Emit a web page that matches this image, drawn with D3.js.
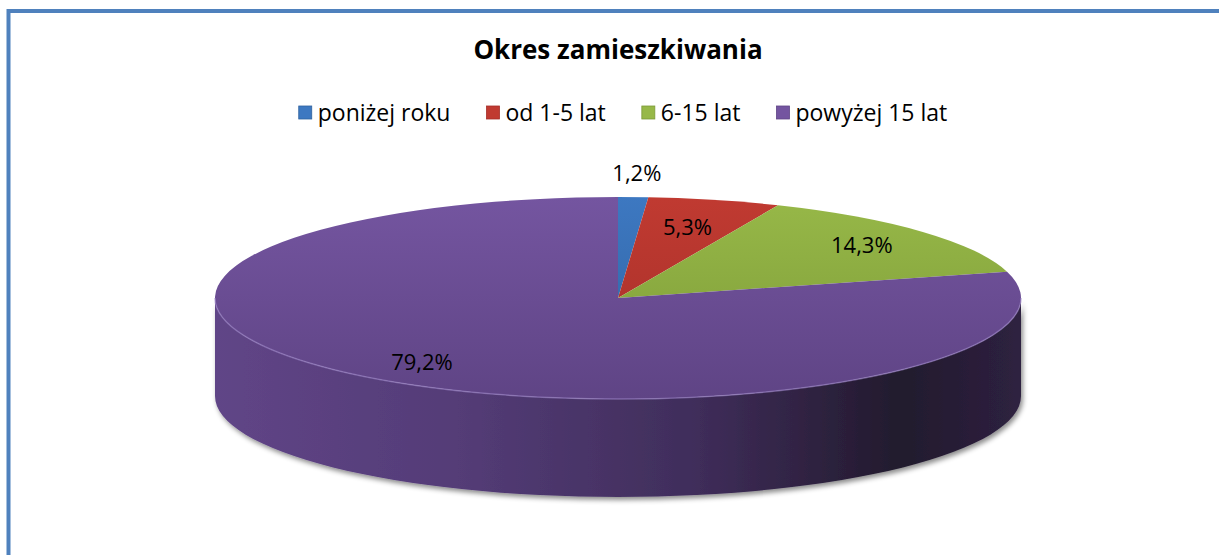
<!DOCTYPE html>
<html>
<head>
<meta charset="utf-8">
<script src="https://cdn.jsdelivr.net/npm/d3@7"></script>
<style>
  body { margin: 0; background: #fff; }
  svg { display: block; font-family: "Open Sans", "Noto Sans", sans-serif; }
</style>
</head>
<body>
<div id="chart"></div>
<script>
const categories = ['poniżej roku', 'od 1-5 lat', '6-15 lat', 'powyżej 15 lat'];
const values = [1.2, 5.3, 14.3, 79.2];
const topColors = ['#3d78c1', '#c03a31', '#97b848', '#7455a0'];
const darkColors = ['#2f629f', '#a52f29', '#7c9a37', '#5f4485'];
const title = 'Okres zamieszkiwania';

const width = 1219;
const height = 555;

// pie geometry (ellipse of the top face + thickness)
const cx = 618, cy = 298;
const rx = 403, ry = 101;
const depth = 98;

const data = categories.map((c, i) => ({ cat: c, value: values[i] }));

const color = d3.scaleOrdinal().domain(categories).range(topColors);
const dark = d3.scaleOrdinal().domain(categories).range(darkColors);

const pie = d3.pie().sort(null).value(d => d.value).startAngle(0).endAngle(2 * Math.PI);
const arcs = pie(data);

const svg = d3.select('#chart').append('svg')
  .attr('width', width)
  .attr('height', height);

const defs = svg.append('defs');

// border of the chart area
svg.append('rect')
  .attr('x', 8.5).attr('y', 11)
  .attr('width', width + 20).attr('height', height + 20)
  .attr('fill', 'none')
  .attr('stroke', '#4f81bd')
  .attr('stroke-width', 4);

svg.append('text')
  .attr('x', cx).attr('y', 59)
  .attr('text-anchor', 'middle')
  .attr('font-size', 26)
  .attr('font-weight', 700)
  .text(title);

// ellipse point helper: angle from 12 o'clock, clockwise
function pt(a, dy) {
  return [cx + rx * Math.sin(a), cy - ry * Math.cos(a) + (dy || 0)];
}

function slicePath(d) {
  const p0 = pt(d.startAngle), p1 = pt(d.endAngle);
  const large = d.endAngle - d.startAngle > Math.PI ? 1 : 0;
  return `M${cx},${cy}L${p0[0]},${p0[1]}A${rx},${ry} 0 ${large} 1 ${p1[0]},${p1[1]}Z`;
}

function sidePath(a0, a1) {
  const p0 = pt(a0), p1 = pt(a1);
  const q0 = pt(a0, depth), q1 = pt(a1, depth);
  const large = a1 - a0 > Math.PI ? 1 : 0;
  return `M${p0[0]},${p0[1]}A${rx},${ry} 0 ${large} 1 ${p1[0]},${p1[1]}` +
    `L${q1[0]},${q1[1]}A${rx},${ry} 0 ${large} 0 ${q0[0]},${q0[1]}Z`;
}

// gradients
arcs.forEach((d, i) => {
  const g = defs.append('linearGradient')
    .attr('id', 'top' + i)
    .attr('gradientUnits', 'userSpaceOnUse')
    .attr('x1', 0).attr('y1', cy - ry).attr('x2', 0).attr('y2', cy + ry);
  g.append('stop').attr('offset', 0).attr('stop-color', color(d.data.cat));
  g.append('stop').attr('offset', 1).attr('stop-color', dark(d.data.cat));
});

const sideGrad = defs.append('linearGradient')
  .attr('id', 'side')
  .attr('gradientUnits', 'userSpaceOnUse')
  .attr('x1', cx - rx).attr('y1', 0).attr('x2', cx + rx).attr('y2', 0);
[[0, '#604587'], [0.3, '#543c77'], [0.6, '#3f2d5a'], [0.85, '#221a2d'], [1, '#2e2140']]
  .forEach(s => sideGrad.append('stop').attr('offset', s[0]).attr('stop-color', s[1]));

const shadow = defs.append('filter').attr('id', 'shadow')
  .attr('x', '-10%').attr('y', '-10%').attr('width', '120%').attr('height', '130%');
shadow.append('feDropShadow')
  .attr('dx', 2).attr('dy', 3).attr('stdDeviation', 2.5)
  .attr('flood-color', '#000').attr('flood-opacity', 0.45);

// side walls (front half only)
const sides = svg.append('g').attr('filter', 'url(#shadow)');
arcs.forEach(d => {
  const a0 = Math.max(d.startAngle, Math.PI / 2);
  const a1 = Math.min(d.endAngle, 3 * Math.PI / 2);
  if (a1 <= a0) return;
  sides.append('path')
    .attr('d', sidePath(a0, a1))
    .attr('fill', d.data.cat === categories[3] ? 'url(#side)' : dark(d.data.cat));
});

// top face
svg.append('g').selectAll('path')
  .data(arcs)
  .join('path')
  .attr('d', slicePath)
  .attr('fill', (d, i) => `url(#top${i})`);

// rim highlight along the front edge
{
  const p0 = pt(Math.PI / 2), p1 = pt(3 * Math.PI / 2);
  svg.append('path')
    .attr('d', `M${p0[0]},${p0[1]}A${rx},${ry} 0 0 1 ${p1[0]},${p1[1]}`)
    .attr('fill', 'none')
    .attr('stroke', '#9a82c4')
    .attr('stroke-opacity', 0.6)
    .attr('stroke-width', 1.5);
}

// data labels
const fmt = v => d3.format('.1f')(v).replace('.', ',') + '%';
svg.append('g').selectAll('text')
  .data(arcs)
  .join('text')
  .attr('font-size', 22)
  .attr('text-anchor', 'middle')
  .attr('fill', '#000')
  .each(function (d) {
    const mid = (d.startAngle + d.endAngle) / 2;
    const f = d.data.value < 3 ? 1.24 : (d.data.value < 10 ? 0.72 : 0.8);
    const x = cx + rx * f * Math.sin(mid);
    const y = cy - ry * f * Math.cos(mid);
    d3.select(this).attr('x', x).attr('y', y + 8);
  })
  .text(d => fmt(d.data.value));

// legend
const legend = svg.append('g');
const items = legend.selectAll('g')
  .data(categories)
  .join('g');
items.append('rect')
  .attr('width', 13).attr('height', 13)
  .attr('y', 106)
  .attr('fill', d => color(d))
  .attr('stroke', d => dark(d))
  .attr('stroke-width', 0.8);
items.append('text')
  .attr('x', 19).attr('y', 121)
  .attr('font-size', 23)
  .text(d => d);

const widths = [];
items.each(function () { widths.push(d3.select(this).select('text').node().getComputedTextLength() + 19); });
const gap = 36;
const total = d3.sum(widths) + gap * (widths.length - 1);
let lx = cx + 5 - total / 2;
items.each(function (d, i) {
  d3.select(this).attr('transform', `translate(${lx},0)`);
  lx += widths[i] + gap;
});
</script>
</body>
</html>
